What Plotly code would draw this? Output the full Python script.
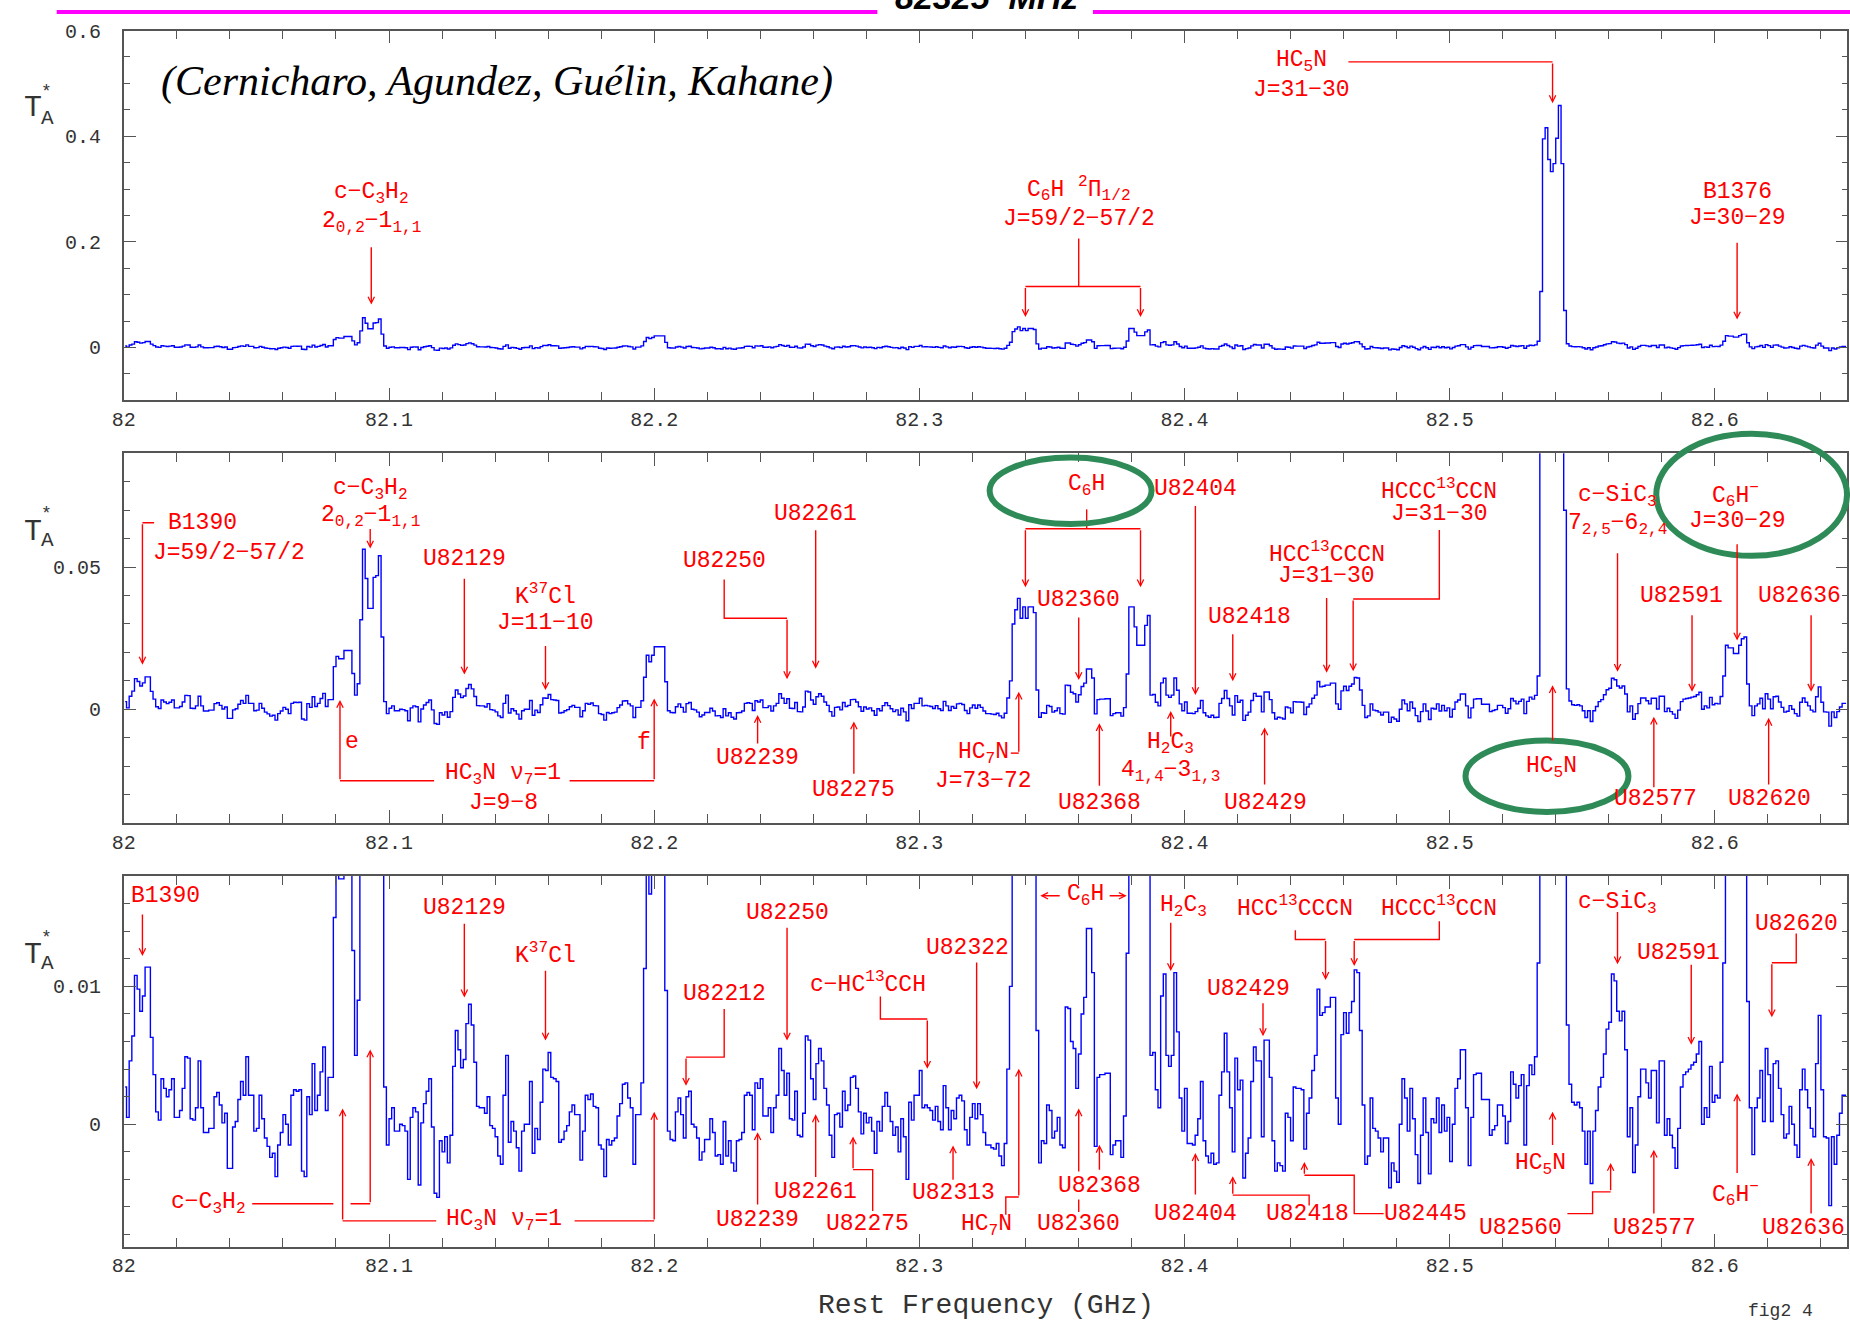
import plotly.graph_objects as go

W, H = 1850, 1321
RED = '#ff0000'
BLUE = '#0000ff'
GREEN = '#2e8b57'
MONO = 'Liberation Mono'
AXC = '#555555'
TXC = '#333333'
LBL = 23

# ---------------- data: channel grid and antenna temperature (mK) ----------------
F0_GHZ = 82.0005      # centre of first 1 MHz channel
DF_GHZ = 0.001        # channel width

ta_82000_82100 = [
    2.7, 0.5, 4.6, 6.4, 10.8, 9.8, 8.2, 9.3, 11.4, 11.4,
    6.3, 3.6, 0.9, 0.3, 3.3, 2.6, 2.0, 2.5, 3.3, 0.5,
    0.5, 1.0, 2.6, 4.9, 4.8, 0.4, 0.3, 1.2, 4.6, 1.2,
    -0.6, -0.6, -0.3, -0.3, 2.0, 2.3, 1.4, 0.1, 0.8, -3.2,
    -3.2, -0.2, 0.2, 1.8, 3.1, 2.1, 4.9, 2.1, 2.1, -0.5,
    -0.3, 2.1, 0.4, -1.0, -1.6, -2.4, -2.1, -3.8, -1.5, -0.6,
    0.7, 0.0, -1.5, 2.1, 2.5, 2.4, 2.5, -3.4, -3.8, 2.0,
    0.7, 4.4, 1.0, 2.1, 3.8, 5.6, 1.0, 3.4, 3.4, 15.0,
    18.6, 17.8, 17.8, 20.7, 20.7, 20.7, 12.6, 5.0, 9.0, 31.5,
    56.3, 46.0, 35.5, 35.5, 46.4, 47.0, 54.0, 25.4, 2.7, -1.5]
ta_82100_82200 = [
    0.4, 1.2, -0.5, -0.5, 0.0, -0.1, -0.5, -4.0, 0.5, 1.2,
    0.9, -4.4, 0.1, 1.5, 2.4, 3.3, -0.2, -5.0, -5.3, -1.2,
    -2.0, -0.9, -2.8, -0.8, 4.2, 6.8, 5.4, 4.1, 4.7, 7.3,
    8.7, 7.2, 4.5, 1.3, 1.2, 1.2, 0.8, 2.0, -0.1, -0.3,
    -0.9, -2.3, -2.9, 2.1, 5.0, -1.3, 0.2, -0.5, -1.7, -3.4,
    -0.5, 0.0, 0.0, 3.1, -2.1, -0.3, -1.1, 1.6, 4.0, 3.9,
    5.2, 3.4, 3.3, 3.1, -1.3, -1.1, -0.5, -0.1, 0.9, 1.4,
    0.7, 0.7, -2.6, -0.5, 2.1, 1.8, 2.2, 1.3, 1.2, -1.5,
    -1.8, -3.8, -1.1, -1.5, -1.2, -1.0, 0.6, 1.5, 2.9, 3.0,
    1.9, 1.2, -2.9, 0.7, 0.7, 3.0, 11.3, 19.0, 16.7, 19.0]
ta_82200_82300 = [
    22.0, 22.0, 22.0, 22.0, 9.7, -0.5, -1.1, -1.2, 0.9, 1.9,
    0.7, -1.0, 2.0, 2.4, 0.0, -0.2, -1.0, -2.6, -2.0, -1.1,
    -1.1, 0.4, -0.6, -2.3, -2.2, -2.9, 0.2, -2.3, -1.2, -2.8,
    -3.4, -1.2, -1.1, -0.6, 2.1, 2.3, 2.1, -0.4, 3.0, 2.6,
    3.3, 0.6, 0.6, 1.2, -0.6, 1.2, 2.1, 5.5, 3.9, 2.1,
    3.7, 0.4, 0.3, 2.4, -0.8, -0.9, 0.8, 6.4, 6.1, 3.3,
    1.8, 4.4, 5.5, 4.6, 2.6, 1.4, -0.8, -2.4, 0.7, 0.8,
    -0.2, 2.4, 1.0, 1.4, 3.4, 3.5, 2.6, 0.9, -0.7, 0.8,
    0.1, 0.5, -0.5, -2.1, 0.2, -0.5, 1.3, 2.3, 1.3, 0.2,
    -0.8, -0.2, -2.0, 0.4, -0.9, -4.0, 1.6, 0.3, 2.1, 2.1]
ta_82300_82400 = [
    3.9, 1.2, 1.4, 1.2, 1.0, 0.3, 1.3, 0.2, -0.4, 2.8,
    1.2, -0.4, 1.0, 0.4, 1.9, 2.1, 1.7, -0.4, -1.5, 0.5,
    1.5, 0.4, 1.5, 0.7, -0.6, -1.5, -1.5, -1.7, -1.8, -1.4,
    -2.3, -3.0, -1.4, 4.0, 10.0, 30.0, 35.0, 39.0, 32.0, 36.0,
    32.0, 36.0, 36.0, 34.0, 6.8, -2.8, -1.2, -1.4, 1.4, 1.0,
    -1.0, -0.5, 0.5, -1.5, -1.7, 8.5, 8.4, 6.0, 5.5, 2.6,
    5.1, 8.0, 9.2, 14.2, 14.2, 11.0, -1.6, 3.4, 3.6, 3.6,
    3.7, 3.7, -2.2, -1.5, -1.2, -1.2, -2.4, 0.6, 12.4, 36.0,
    36.0, 29.0, 22.5, 22.5, 22.5, 29.5, 33.0, 5.0, 5.2, 2.5,
    1.2, 9.3, 10.9, 5.0, 4.2, 5.0, 11.0, 6.7, 1.9, -0.5]
ta_82400_82500 = [
    2.6, -1.4, -1.4, -1.5, -0.8, 0.4, 3.1, -1.2, -2.3, -2.8,
    -2.1, -2.9, -2.8, 2.1, 3.8, 6.6, 3.8, 1.2, -2.0, 4.8,
    2.5, 3.2, -3.9, -2.1, -1.0, 3.1, 5.6, 4.6, 4.6, -0.9,
    6.1, 6.1, 3.4, -1.2, -3.4, -2.8, -3.0, -3.4, 0.8, 0.5,
    -1.2, 2.7, 2.6, 2.6, 2.5, -1.8, 0.8, 1.9, 3.9, 5.0,
    9.8, 7.9, 8.1, 8.5, 8.5, 9.2, 9.2, 1.9, 0.0, 6.5,
    8.1, 6.6, 8.1, 8.9, 11.2, 11.0, 6.8, 1.4, -2.9, -2.3,
    1.9, -0.3, -0.5, -1.0, -2.0, -1.0, -1.0, -4.6, -2.8, -3.4,
    -4.2, 0.0, 3.3, 1.9, -0.5, 2.6, 0.4, -2.2, -4.3, -0.8,
    1.9, -0.6, -3.6, 0.4, 0.1, 1.9, -0.6, 1.4, -0.5, 0.5]
ta_82500_82600 = [
    -2.7, 0.0, 2.6, 3.3, 5.4, 5.4, 1.2, -3.0, 0.5, 3.6,
    3.7, 3.7, 1.8, 1.8, 1.8, -0.8, -0.4, -0.1, 1.4, 1.4,
    0.6, -1.4, 0.2, 3.8, 2.9, 1.9, 2.8, 3.6, -1.5, 2.8,
    4.3, 3.6, 4.9, 11.7, 106.0, 395.0, 416.0, 356.0, 333.0, 348.0,
    396.0, 458.0, 348.0, 70.0, 7.2, 2.9, 1.6, 1.4, 1.6, 1.2,
    -0.5, -2.9, -0.5, -4.3, -0.5, 1.0, 2.7, 3.4, 5.1, 6.9,
    7.4, 10.9, 10.4, 8.2, 7.5, 8.2, 5.4, -0.9, 1.2, -3.5,
    -1.5, 2.0, 4.0, 4.0, 3.0, 1.9, 3.9, 3.9, 0.1, 4.6,
    4.6, -0.8, 0.4, -0.8, -1.7, -3.2, -0.3, 2.7, 3.6, 3.8,
    4.0, 4.3, 4.5, 5.1, 6.0, 0.0, 1.2, 0.5, 4.2, 1.6]
ta_82600_82650 = [
    2.1, 1.9, 4.5, 11.7, 22.5, 21.6, 21.6, 19.6, 19.6, 22.5,
    24.8, 25.4, 8.9, 1.2, -2.2, 1.2, 1.9, 3.9, 0.2, 5.5,
    3.6, 0.2, 4.4, 4.6, 2.6, 0.7, -1.0, -0.7, 1.3, 0.0,
    -1.5, -2.4, 2.5, 4.0, 2.5, 1.2, -0.3, -0.9, 4.4, 7.9,
    2.5, -0.9, -1.0, -5.9, -0.9, -2.9, -0.8, 0.8, 2.1, 2.1]

x_tickvals = [82.0, 82.1, 82.2, 82.3, 82.4, 82.5, 82.6]
x_ticktext = ['82', '82.1', '82.2', '82.3', '82.4', '82.5', '82.6']
y1_tickvals, y1_ticktext = [0, 0.2, 0.4, 0.6], ['0', '0.2', '0.4', '0.6']
y2_tickvals, y2_ticktext = [0, 0.05], ['0', '0.05']
y3_tickvals, y3_ticktext = [0, 0.01], ['0', '0.01']

ta_mK = (ta_82000_82100 + ta_82100_82200 + ta_82200_82300 + ta_82300_82400
         + ta_82400_82500 + ta_82500_82600 + ta_82600_82650)
freq = [F0_GHZ + i * DF_GHZ for i in range(len(ta_mK))]
ta_K = [v / 1000.0 for v in ta_mK]

# ---------------- figure ----------------
fig = go.Figure()
for p in (1, 2, 3):
    fig.add_trace(go.Scatter(x=freq, y=ta_K, mode='lines', line_shape='hvh',
                             line=dict(color=BLUE, width=1.4),
                             xaxis='x' if p == 1 else f'x{p}',
                             yaxis='y' if p == 1 else f'y{p}',
                             showlegend=False, hoverinfo='skip'))

XDOM = [112.6 / W, 1847.4 / W]
def ydom(top, bot):
    return [1 - bot / H, 1 - top / H]

tickfont = dict(family=MONO, size=20, color=TXC)
def xaxis(anchor):
    return dict(domain=XDOM, range=[82.0, 82.65], anchor=anchor,
                showline=True, linecolor=AXC, linewidth=1.5, mirror='allticks',
                ticks='inside', ticklen=13, tickwidth=1.4, tickcolor=AXC,
                tickmode='array', tickvals=x_tickvals, ticktext=x_ticktext,
                minor=dict(tickmode='linear', tick0=82.0, dtick=0.02, ticks='inside',
                           ticklen=9, tickwidth=1.2, tickcolor=AXC),
                showgrid=False, zeroline=False, tickfont=tickfont,
                ticklabelstandoff=0, fixedrange=True)
def yaxis(anchor, dom, rng, tv, tt, mdt):
    return dict(domain=dom, range=rng, anchor=anchor,
                showline=True, linecolor=AXC, linewidth=1.5, mirror='allticks',
                ticks='inside', ticklen=12, tickwidth=1.4, tickcolor=AXC,
                tickmode='array', tickvals=tv, ticktext=tt,
                minor=dict(tickmode='linear', tick0=0, dtick=mdt, ticks='inside',
                           ticklen=6, tickwidth=1.2, tickcolor=AXC),
                showgrid=False, zeroline=False, tickfont=tickfont,
                ticklabelstandoff=17, fixedrange=True)

fig.update_layout(
    width=W, height=H, margin=dict(l=0, r=0, t=0, b=0),
    paper_bgcolor='white', plot_bgcolor='white', showlegend=False,
    xaxis=xaxis('y'), xaxis2=xaxis('y2'), xaxis3=xaxis('y3'),
    yaxis=yaxis('x', ydom(20.7, 393.3), [-0.1, 0.6], y1_tickvals, y1_ticktext, 0.05),
    yaxis2=yaxis('x2', ydom(446.7, 819.3), [-0.04, 0.09], y2_tickvals, y2_ticktext, 0.01),
    yaxis3=yaxis('x3', ydom(872.7, 1246.0), [-0.00887, 0.018], y3_tickvals, y3_ticktext, 0.002),
)

ann, shp = [], []
def refs(p):
    return ('x' if p == 1 else f'x{p}', 'y' if p == 1 else f'y{p}')
def txt(p, x, y, s, anchor='center', size=LBL):
    xr, yr = refs(p)
    ann.append(dict(xref=xr, yref=yr, x=x, y=y, text=s, showarrow=False,
                    xanchor=anchor, yanchor='middle',
                    font=dict(family=MONO, size=size, color=RED)))
def arrow(p, x0, y0, x1, y1):
    xr, yr = refs(p)
    ann.append(dict(xref=xr, yref=yr, axref=xr, ayref=yr, x=x1, y=y1, ax=x0, ay=y0,
                    text='', showarrow=True, arrowhead=5, arrowsize=0.9,
                    arrowwidth=1.4, arrowcolor=RED, standoff=0, startstandoff=0))
def arr(p, x, y0, y1):
    arrow(p, x, y0, x, y1)
def seg(p, pts):
    xr, yr = refs(p)
    path = 'M' + ' L'.join(f'{x},{y}' for x, y in pts)
    shp.append(dict(type='path', xref=xr, yref=yr, path=path,
                    line=dict(color=RED, width=1.4)))

# ---- panel 1 ----
txt(1, 82.0933, 0.2906, 'c−C<sub>3</sub>H<sub>2</sub>')
txt(1, 82.0933, 0.2375, '2<sub>0,2</sub>−1<sub>1,1</sub>')
arr(1, 82.0933, 0.1925, 0.0813)
txt(1, 82.3601, 0.300, 'C<sub>6</sub>H <sup>2</sup>Π<sub>1/2</sub>')
txt(1, 82.3601, 0.2425, 'J=59/2−57/2')
seg(1, [(82.3601, 0.2063), (82.3601, 0.1156)])
seg(1, [(82.3400, 0.1156), (82.3834, 0.1156)])
arr(1, 82.3400, 0.1156, 0.0575)
arr(1, 82.3834, 0.1156, 0.0575)
txt(1, 82.4440, 0.5406, 'HC<sub>5</sub>N')
txt(1, 82.4440, 0.4875, 'J=31−30')
seg(1, [(82.4618, 0.5406), (82.5388, 0.5406)])
arr(1, 82.5388, 0.5406, 0.4625)
txt(1, 82.6084, 0.295, 'B1376')
txt(1, 82.6084, 0.245, 'J=30−29')
arr(1, 82.6084, 0.2013, 0.0531)

# ---- panel 2 ----
txt(2, 82.0296, 0.0656, 'B1390')
txt(2, 82.0396, 0.0551, 'J=59/2−57/2')
seg(2, [(82.0114, 0.0656), (82.0070, 0.0656)])
arr(2, 82.0070, 0.0656, 0.0157)
txt(2, 82.0929, 0.0773, 'c−C<sub>3</sub>H<sub>2</sub>')
txt(2, 82.0929, 0.0677, '2<sub>0,2</sub>−1<sub>1,1</sub>')
arr(2, 82.0929, 0.0639, 0.0565)
txt(2, 82.1284, 0.0528, 'U82129')
arr(2, 82.1284, 0.0464, 0.0122)
txt(2, 82.1590, 0.0402, 'K<sup>37</sup>Cl')
txt(2, 82.1590, 0.0304, 'J=11−10')
arr(2, 82.1590, 0.0228, 0.0068)
txt(2, 82.0859, -0.0115, 'e')
txt(2, 82.1960, -0.0119, 'f')
txt(2, 82.1430, -0.0230, 'HC<sub>3</sub>N ν<sub>7</sub>=1')
txt(2, 82.1430, -0.0329, 'J=9−8')
seg(2, [(82.0815, -0.0251), (82.1170, -0.0251)])
seg(2, [(82.1681, -0.0251), (82.2000, -0.0251)])
arr(2, 82.0815, -0.0251, 0.0033)
arr(2, 82.2000, -0.0251, 0.0038)
txt(2, 82.2264, 0.0522, 'U82250')
seg(2, [(82.2264, 0.0456), (82.2264, 0.0320), (82.2501, 0.0320)])
arr(2, 82.2501, 0.0320, 0.0106)
txt(2, 82.2609, 0.0685, 'U82261')
arr(2, 82.2609, 0.0635, 0.0143)
txt(2, 82.2390, -0.0171, 'U82239')
arr(2, 82.2390, -0.0125, -0.0020)
txt(2, 82.2753, -0.0282, 'U82275')
arr(2, 82.2753, -0.0232, -0.0043)
txt(2, 82.3631, 0.0787, 'C<sub>6</sub>H')
seg(2, [(82.3631, 0.0703), (82.3631, 0.0635)])
seg(2, [(82.3400, 0.0635), (82.3834, 0.0635)])
arr(2, 82.3400, 0.0635, 0.0429)
arr(2, 82.3834, 0.0635, 0.0429)
txt(2, 82.4041, 0.0773, 'U82404')
arr(2, 82.4041, 0.0720, 0.0050)
txt(2, 82.3601, 0.0386, 'U82360')
arr(2, 82.3601, 0.0328, 0.0103)
txt(2, 82.3345, -0.0154, 'HC<sub>7</sub>N', anchor='right')
txt(2, 82.3241, -0.0253, 'J=73−72')
seg(2, [(82.3345, -0.0154), (82.3375, -0.0154)])
arr(2, 82.3375, -0.0154, 0.0062)
txt(2, 82.3679, -0.0329, 'U82368')
arr(2, 82.3679, -0.0274, -0.0049)
txt(2, 82.3948, -0.0119, 'H<sub>2</sub>C<sub>3</sub>')
txt(2, 82.3948, -0.0218, '4<sub>1,4</sub>−3<sub>1,3</sub>')
arr(2, 82.3948, -0.0101, -0.0006)
txt(2, 82.4244, 0.0324, 'U82418')
arr(2, 82.4182, 0.0269, 0.0099)
txt(2, 82.4305, -0.0331, 'U82429')
arr(2, 82.4302, -0.0270, -0.0064)
txt(2, 82.4536, 0.0551, 'HCC<sup>13</sup>CCCN')
txt(2, 82.4536, 0.0470, 'J=31−30')
arr(2, 82.4536, 0.0397, 0.0129)
txt(2, 82.4961, 0.0770, 'HCCC<sup>13</sup>CCN')
txt(2, 82.4961, 0.0685, 'J=31−30')
seg(2, [(82.4961, 0.0630), (82.4961, 0.0388), (82.4636, 0.0388)])
arr(2, 82.4636, 0.0388, 0.0134)
txt(2, 82.5633, 0.0749, 'c−SiC<sub>3</sub>')
txt(2, 82.5633, 0.0650, '7<sub>2,5</sub>−6<sub>2,4</sub>')
arr(2, 82.5633, 0.0554, 0.0132)
txt(2, 82.6077, 0.0755, 'C<sub>6</sub>H<sup>−</sup>')
txt(2, 82.6084, 0.0662, 'J=30−29')
arr(2, 82.6084, 0.0586, 0.0242)
txt(2, 82.5385, -0.0206, 'HC<sub>5</sub>N')
arr(2, 82.5388, -0.0115, 0.0085)
txt(2, 82.5874, 0.0397, 'U82591')
arr(2, 82.5914, 0.0336, 0.0062)
txt(2, 82.6321, 0.0397, 'U82636')
arr(2, 82.6363, 0.0336, 0.0062)
txt(2, 82.5776, -0.0317, 'U82577')
arr(2, 82.5770, -0.0279, -0.0026)
txt(2, 82.6206, -0.0317, 'U82620')
arr(2, 82.6203, -0.0270, -0.0030)

# ---- panel 3 ----
txt(3, 82.0156, 0.01657, 'B1390')
arr(3, 82.0070, 0.01532, 0.0122)
txt(3, 82.1284, 0.01568, 'U82129')
arr(3, 82.1284, 0.01465, 0.0092)
txt(3, 82.1590, 0.01232, 'K<sup>37</sup>Cl')
arr(3, 82.1590, 0.01124, 0.00607)
txt(3, 82.0319, -0.00576, 'c−C<sub>3</sub>H<sub>2</sub>')
seg(3, [(82.0484, -0.00576), (82.0790, -0.00576)])
seg(3, [(82.0855, -0.00576), (82.0929, -0.00576)])
arr(3, 82.0929, -0.00576, 0.00543)
txt(3, 82.1433, -0.00701, 'HC<sub>3</sub>N ν<sub>7</sub>=1')
seg(3, [(82.0825, -0.00701), (82.1178, -0.00701)])
seg(3, [(82.1700, -0.00701), (82.2000, -0.00701)])
arr(3, 82.0825, -0.00701, 0.00115)
arr(3, 82.2000, -0.00701, 0.0009)
txt(3, 82.2264, 0.00944, 'U82212')
seg(3, [(82.2264, 0.00836), (82.2264, 0.00487), (82.2120, 0.00487)])
arr(3, 82.2120, 0.00487, 0.00279)
txt(3, 82.2501, 0.01532, 'U82250')
arr(3, 82.2501, 0.01436, 0.00607)
txt(3, 82.2807, 0.01028, 'c−HC<sup>13</sup>CCH')
seg(3, [(82.2853, 0.00927), (82.2853, 0.00763), (82.3030, 0.00763)])
arr(3, 82.3030, 0.00763, 0.00403)
txt(3, 82.3182, 0.0128, 'U82322')
arr(3, 82.3216, 0.01184, 0.00254)
txt(3, 82.3627, 0.01657, 'C<sub>6</sub>H')
arrow(3, 82.3535, 0.01657, 82.3456, 0.01657)
arrow(3, 82.3712, 0.01657, 82.3782, 0.01657)
txt(3, 82.3997, 0.0158, 'H<sub>2</sub>C<sub>3</sub>')
arr(3, 82.3948, 0.01472, 0.01112)
txt(3, 82.2609, -0.0049, 'U82261')
arr(3, 82.2609, -0.00394, 0.00072)
txt(3, 82.2390, -0.00696, 'U82239')
arr(3, 82.2390, -0.00593, -0.00058)
txt(3, 82.2804, -0.00725, 'U82275')
seg(3, [(82.2824, -0.00629), (82.2824, -0.00329), (82.2750, -0.00329)])
arr(3, 82.2750, -0.00329, -0.00089)
txt(3, 82.3127, -0.00497, 'U82313')
arr(3, 82.3127, -0.00413, -0.00154)
txt(3, 82.3252, -0.00737, 'HC<sub>7</sub>N')
seg(3, [(82.3326, -0.00656), (82.3326, -0.00528), (82.3375, -0.00528)])
arr(3, 82.3375, -0.00528, 0.00403)
txt(3, 82.3679, -0.00449, 'U82368')
arr(3, 82.3679, -0.00341, -0.00149)
txt(3, 82.3601, -0.00725, 'U82360')
seg(3, [(82.3601, -0.00636), (82.3601, -0.00545)])
arr(3, 82.3601, -0.00353, 0.00115)
txt(3, 82.4041, -0.00653, 'U82404')
arr(3, 82.4041, -0.00521, -0.00209)
txt(3, 82.4418, 0.01575, 'HCC<sup>13</sup>CCCN')
seg(3, [(82.4418, 0.01407), (82.4418, 0.0134), (82.4532, 0.0134)])
arr(3, 82.4532, 0.0134, 0.01047)
txt(3, 82.4961, 0.01575, 'HCCC<sup>13</sup>CCN')
seg(3, [(82.4961, 0.01472), (82.4961, 0.0134), (82.4640, 0.0134)])
arr(3, 82.4640, 0.0134, 0.01148)
txt(3, 82.4240, 0.00984, 'U82429')
arr(3, 82.4296, 0.00888, 0.00639)
txt(3, 82.5633, 0.01604, 'c−SiC<sub>3</sub>')
arr(3, 82.5633, 0.01551, 0.0116)
txt(3, 82.5862, 0.01244, 'U82591')
arr(3, 82.5911, 0.01167, 0.00576)
txt(3, 82.6307, 0.01455, 'U82620')
seg(3, [(82.6307, 0.01383), (82.6307, 0.01172), (82.6215, 0.01172)])
arr(3, 82.6215, 0.01172, 0.00776)
txt(3, 82.4462, -0.00653, 'U82418')
seg(3, [(82.4470, -0.0059), (82.4470, -0.00514), (82.4182, -0.00514)])
arr(3, 82.4182, -0.00514, -0.00377)
txt(3, 82.4907, -0.00648, 'U82445')
seg(3, [(82.4751, -0.00648), (82.4640, -0.00648), (82.4640, -0.0037), (82.4452, -0.0037)])
arr(3, 82.4452, -0.0037, -0.00274)
txt(3, 82.5341, -0.00293, 'HC<sub>5</sub>N')
arr(3, 82.5388, -0.00161, 0.00091)
txt(3, 82.5267, -0.00749, 'U82560')
seg(3, [(82.5444, -0.00648), (82.5539, -0.00648), (82.5539, -0.0049), (82.5607, -0.0049)])
arr(3, 82.5607, -0.0049, -0.00281)
txt(3, 82.5773, -0.00749, 'U82577')
arr(3, 82.5770, -0.00658, -0.00185)
txt(3, 82.6077, -0.00509, 'C<sub>6</sub>H<sup>−</sup>')
arr(3, 82.6084, -0.00365, 0.00223)
txt(3, 82.6336, -0.00749, 'U82636')
arr(3, 82.6363, -0.00658, -0.00245)

# ---- paper-level decorations ----
def pann(xpx, ypx, s, size, color=TXC, family=MONO, xa='center', ya='middle'):
    ann.append(dict(xref='paper', yref='paper', x=xpx / W, y=1 - ypx / H, text=s,
                    showarrow=False, xanchor=xa, yanchor=ya,
                    font=dict(family=family, size=size, color=color)))

pann(148, 72, '<i>(Cernicharo, Agundez, Guélin, Kahane)</i>', 42, color='black',
     family='Liberation Serif', xa='left')
pann(981, 8, '<b><i>82325  MHz</i></b>', 34, color='black', family='Liberation Sans',
     ya='bottom')
pann(980, 1305, 'Rest Frequency (GHz)', 28)
pann(1780, 1311, 'fig2 4', 18)
for (ty, sy, ay) in [(99, 83, 109), (526, 508, 535), (952, 935, 961)]:
    pann(21, ty, 'T', 30)
    pann(35, sy, '*', 18)
    pann(35.5, ay, 'A', 21)

for x0, x1 in [(45, 871), (1088, 1850)]:
    shp.append(dict(type='line', xref='paper', yref='paper', x0=x0 / W, x1=x1 / W,
                    y0=1 - 2 / H, y1=1 - 2 / H, line=dict(color='#ff00ff', width=4)))
for (x0, x1, y0, y1) in [(984, 1147, 451, 518), (1655, 1847, 427, 550), (1463, 1627, 736, 808)]:
    shp.append(dict(type='circle', xref='paper', yref='paper', x0=x0 / W, x1=x1 / W,
                    y0=1 - y1 / H, y1=1 - y0 / H, line=dict(color=GREEN, width=6)))

fig.update_layout(annotations=ann, shapes=shp)
fig.write_html('out.html')
